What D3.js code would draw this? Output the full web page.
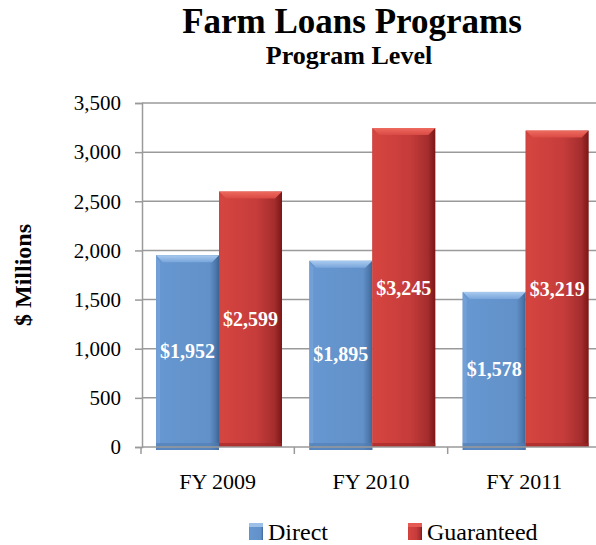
<!DOCTYPE html>
<html><head><meta charset="utf-8">
<script src="https://cdn.jsdelivr.net/npm/d3@7"></script>
<style>
html,body{margin:0;padding:0;background:#fff;}
svg{display:block;}
text{font-family:"Liberation Serif","Times New Roman",serif;}
</style></head>
<body>
<script>
const categories = ["FY 2009", "FY 2010", "FY 2011"];
const seriesNames = ["Direct", "Guaranteed"];
const directValues = [1952, 1895, 1578];
const guaranteedValues = [2599, 3245, 3219];
const yTickValues = [0, 500, 1000, 1500, 2000, 2500, 3000, 3500];
const titleText = "Farm Loans Programs";
const subtitleText = "Program Level";
const yAxisTitle = "$ Millions";

const W = 596, H = 545;
const svg = d3.select("body").append("svg").attr("width", W).attr("height", H);
const defs = svg.append("defs");

function hGrad(id, stops) {
  const g = defs.append("linearGradient").attr("id", id).attr("x1", "0").attr("x2", "1").attr("y1", "0").attr("y2", "0");
  stops.forEach(s => g.append("stop").attr("offset", s[0]).attr("stop-color", s[1]));
}
function vGrad(id, stops) {
  const g = defs.append("linearGradient").attr("id", id).attr("x1", "0").attr("x2", "0").attr("y1", "0").attr("y2", "1");
  stops.forEach(s => g.append("stop").attr("offset", s[0]).attr("stop-color", s[1]));
}
hGrad("gDirect", [[0, "#5b89c2"], [0.06, "#6797d0"], [0.85, "#6291c9"], [0.95, "#4c77ab"], [1, "#3d6494"]]);
hGrad("gGuar", [[0, "#c63b3a"], [0.06, "#d5443f"], [0.6, "#c53c3b"], [0.88, "#a52d2d"], [1, "#7b1616"]]);
vGrad("gDirectTop", [[0, "#a9cbef"], [1, "#7aa6dc"]]);
vGrad("gGuarTop", [[0, "#ee6a5f"], [1, "#d94a44"]]);

const x0 = d3.scaleBand().domain(categories).range([141, 601]).padding(0);
const x1 = d3.scaleBand().domain(seriesNames).range([15, 141]).padding(0);
const y = d3.scaleLinear().domain([0, 3500]).range([447, 103]);

// gridlines
svg.append("g").selectAll("line").data(yTickValues.filter(d => d > 0)).join("line")
  .attr("x1", 142).attr("x2", W).attr("y1", d => y(d)).attr("y2", d => y(d))
  .attr("stroke", "#9a9a9a").attr("stroke-width", 1.5);

// y axis
const yAxis = svg.append("g").attr("transform", "translate(142,0)")
  .call(d3.axisLeft(y).tickValues(yTickValues).tickFormat(d3.format(",")).tickSize(7).tickPadding(14));
yAxis.select(".domain").attr("stroke", "#9a9a9a").attr("stroke-width", 1.5);
yAxis.selectAll(".tick line").attr("stroke", "#9a9a9a").attr("stroke-width", 1.5);
yAxis.selectAll(".tick text").attr("font-size", 21).attr("fill", "#000")
  .style("font-family", "'Liberation Serif','Times New Roman',serif");

// bars
const rows = categories.map((c, i) => ({cat: c, vals: [
  {s: "Direct", v: directValues[i]}, {s: "Guaranteed", v: guaranteedValues[i]}]}));
const groups = svg.append("g").selectAll("g").data(rows).join("g")
  .attr("transform", d => `translate(${x0(d.cat)},0)`);
const bars = groups.selectAll("g").data(d => d.vals).join("g");
bars.append("rect")
  .attr("x", d => x1(d.s)).attr("width", x1.bandwidth())
  .attr("y", d => y(d.v)).attr("height", d => y(0) - y(d.v) + (d.s === "Direct" ? 3 : 0))
  .attr("fill", d => d.s === "Direct" ? "url(#gDirect)" : "url(#gGuar)");
// top bevel
bars.append("path")
  .attr("d", d => {
    const xl = x1(d.s), xr = xl + x1.bandwidth(), yt = y(d.v);
    return `M${xl},${yt}L${xr},${yt}L${xr - 7},${yt + 7}L${xl + 7},${yt + 7}Z`;
  })
  .attr("fill", d => d.s === "Direct" ? "url(#gDirectTop)" : "url(#gGuarTop)");
// left bevel highlight
bars.append("path")
  .attr("d", d => {
    const xl = x1(d.s), yt = y(d.v), yb = y(0);
    return `M${xl},${yt}L${xl + 4},${yt + 7}L${xl + 4},${yb - 4}L${xl},${yb}Z`;
  })
  .attr("fill", d => d.s === "Direct" ? "#76a3d9" : "#d24641").attr("opacity", 0.8);
// bottom shading
bars.append("rect")
  .attr("x", d => x1(d.s)).attr("width", x1.bandwidth())
  .attr("y", y(0) - 4).attr("height", d => d.s === "Direct" ? 7 : 4)
  .attr("fill", d => d.s === "Direct" ? "#4f7cb3" : "#9c2727").attr("opacity", 0.6);
// value labels
bars.append("text")
  .attr("x", d => x1(d.s) + x1.bandwidth() / 2)
  .attr("y", d => (y(d.v) + y(0)) / 2 + 7)
  .attr("text-anchor", "middle").attr("font-size", 20).attr("font-weight", "bold")
  .attr("fill", "#fff").text(d => "$" + d3.format(",")(d.v));

// x axis baseline and ticks
svg.append("line").attr("x1", 142).attr("x2", W).attr("y1", y(0)).attr("y2", y(0))
  .attr("stroke", "#9a9a9a").attr("stroke-width", 1.5);
svg.append("g").selectAll("line").data(categories).join("line")
  .attr("x1", d => x0(d)).attr("x2", d => x0(d)).attr("y1", y(0)).attr("y2", y(0) + 7)
  .attr("stroke", "#9a9a9a").attr("stroke-width", 1.5);
svg.append("g").selectAll("text").data(categories).join("text")
  .attr("x", d => x0(d) + x0.bandwidth() / 2).attr("y", 489)
  .attr("text-anchor", "middle").attr("font-size", 22).attr("fill", "#000").text(d => d);

// y-axis title
svg.append("text").attr("transform", "translate(31,275) rotate(-90)")
  .attr("text-anchor", "middle").attr("font-size", 24).attr("font-weight", "bold")
  .text(yAxisTitle);

// titles
svg.append("text").attr("x", 352).attr("y", 33).attr("text-anchor", "middle")
  .attr("font-size", 35).attr("font-weight", "bold").text(titleText);
svg.append("text").attr("x", 349).attr("y", 64).attr("text-anchor", "middle")
  .attr("font-size", 26).attr("font-weight", "bold").text(subtitleText);

// legend
const legendX = [249, 408];
const leg = svg.append("g").selectAll("g").data(seriesNames).join("g")
  .attr("transform", (d, i) => `translate(${legendX[i]},523)`);
leg.append("rect").attr("width", 14).attr("height", 17)
  .attr("fill", (d, i) => i === 0 ? "url(#gDirect)" : "url(#gGuar)");
leg.append("rect").attr("width", 14).attr("height", 4)
  .attr("fill", (d, i) => i === 0 ? "#9cc0e8" : "#e55a52");
leg.append("text").attr("x", 19).attr("y", 17).attr("font-size", 24).attr("fill", "#000").text(d => d);
</script>
</body></html>
